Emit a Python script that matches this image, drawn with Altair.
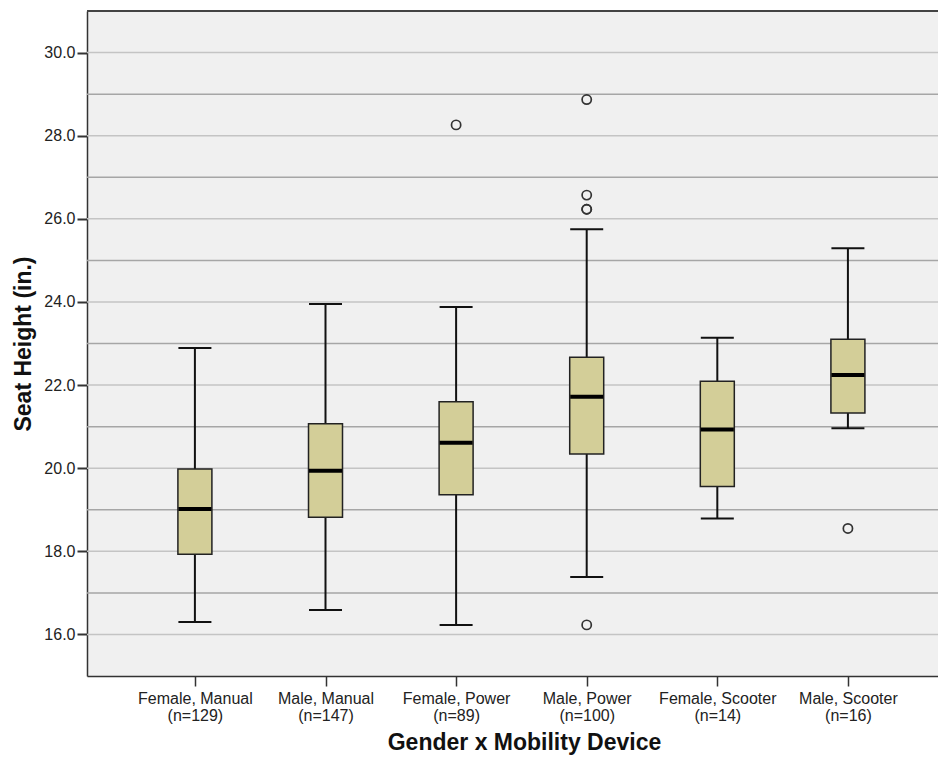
import altair as alt
import pandas as pd

categories = ["Female, Manual", "Male, Manual", "Female, Power",
              "Male, Power", "Female, Scooter", "Male, Scooter"]
counts = [129, 147, 89, 100, 14, 16]
lower = [16.30, 16.59, 16.23, 17.38, 18.79, 20.96]
q1 = [17.93, 18.82, 19.36, 20.34, 19.56, 21.33]
median = [19.02, 19.94, 20.61, 21.72, 20.93, 22.24]
q3 = [19.98, 21.07, 21.60, 22.67, 22.09, 23.10]
upper = [22.89, 23.95, 23.88, 25.75, 23.14, 25.29]

outlier_group = ["Female, Power", "Male, Power", "Male, Power", "Male, Power",
                 "Male, Power", "Male, Power", "Male, Scooter"]
outlier_value = [28.26, 28.87, 26.57, 26.23, 26.23, 16.23, 18.55]

y_ticks = [16, 18, 20, 22, 24, 26, 28, 30]
grid_values = [16, 17, 18, 19, 20, 21, 22, 23, 24, 25, 26, 27, 28, 29, 30]

labels = [f"{c}|(n={n})" for c, n in zip(categories, counts)]
lab_map = dict(zip(categories, labels))

stats = pd.DataFrame({"cat": labels, "lower": lower, "q1": q1,
                      "median": median, "q3": q3, "upper": upper})
outl = pd.DataFrame({"cat": [lab_map[g] for g in outlier_group],
                     "v": outlier_value})
grid = pd.DataFrame({"g": grid_values,
                     "even": [v % 2 == 0 for v in grid_values]})

W, H = 851, 665
FONT = "Liberation Sans"

yscale = alt.Scale(domain=[15, 31], nice=False, zero=False)
xscale = alt.Scale(type="point", padding=0.758, align=0.545)

x_enc = alt.X("cat:N", sort=labels, scale=xscale,
              axis=alt.Axis(title="Gender x Mobility Device", labelAngle=0,
                            labelExpr="split(datum.value, '|')",
                            labelLineHeight=17, labelFontSize=16,
                            labelFont=FONT, labelColor="#222",
                            labelBaseline="top", labelPadding=4,
                            tickSize=10, tickWidth=1.5, tickColor="#333",
                            domainColor="#333", domainWidth=1.5,
                            titleFont=FONT, titleFontSize=23,
                            titleFontWeight="bold", titleColor="#111",
                            titleX=437, titleY=73, titleAlign="center",
                            titleBaseline="alphabetic", grid=False))

gridlayer = alt.Chart(grid).mark_rule(strokeWidth=1.5).encode(
    y=alt.Y("g:Q", scale=yscale,
            axis=alt.Axis(values=y_ticks, format=".1f", title="Seat Height (in.)",
                          labelFontSize=16, labelFont=FONT, labelColor="#222",
                          labelPadding=2, tickSize=10, tickWidth=2,
                          tickColor="#333", domainColor="#333", domainWidth=1.5,
                          titleFont=FONT, titleFontSize=23,
                          titleFontWeight="bold", titleColor="#111",
                          titleX=-64, titleBaseline="middle", grid=False)),
    color=alt.condition("datum.even", alt.value("#C4C4C4"), alt.value("#A6A6A6")),
)

topline = alt.Chart(grid).mark_rule(color="#444", strokeWidth=2).encode(
    x=alt.value(0), x2=alt.value(W + 10), y=alt.value(0))

base = alt.Chart(stats)

whisk = base.mark_rule(color="#111", strokeWidth=2).encode(
    x=x_enc, y=alt.Y("lower:Q", scale=yscale), y2="upper:Q")

caps_lo = base.mark_tick(color="#111", thickness=2, size=33, opacity=1).encode(
    x=alt.X("cat:N", sort=labels, scale=xscale), y=alt.Y("lower:Q", scale=yscale))
caps_hi = base.mark_tick(color="#111", thickness=2, size=33, opacity=1).encode(
    x=alt.X("cat:N", sort=labels, scale=xscale), y=alt.Y("upper:Q", scale=yscale))

box = base.mark_bar(size=34, fill="#D3CE98", stroke="#222", strokeWidth=1.5).encode(
    x=alt.X("cat:N", sort=labels, scale=xscale), y=alt.Y("q1:Q", scale=yscale), y2="q3:Q")

med = base.mark_tick(color="#000", thickness=4, size=33, opacity=1).encode(
    x=alt.X("cat:N", sort=labels, scale=xscale), y=alt.Y("median:Q", scale=yscale))

pts = alt.Chart(outl).mark_point(shape="circle", filled=False, size=85,
                                 stroke="#333", strokeWidth=1.7, opacity=1).encode(
    x=alt.X("cat:N", sort=labels, scale=xscale), y=alt.Y("v:Q", scale=yscale))

chart = alt.layer(gridlayer, topline, whisk, caps_lo, caps_hi, box, med, pts).properties(
    width=W, height=H,
    autosize=alt.AutoSizeParams(type="none"),
    padding={"left": 79, "top": 3, "right": 0, "bottom": 83},
    background="white",
).configure_view(fill="#F0F0F0", stroke=None)

chart.save("out.html", embed_options={"renderer": "svg", "actions": False})
